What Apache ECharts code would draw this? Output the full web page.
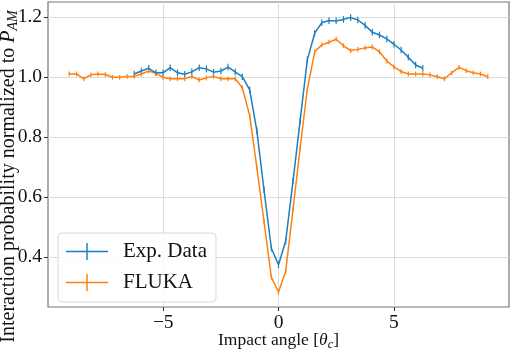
<!DOCTYPE html>
<html><head><meta charset="utf-8">
<script src="https://cdn.jsdelivr.net/npm/echarts@6/dist/echarts.min.js"></script>
<style>html,body{margin:0;padding:0;background:#fff}#c{width:512px;height:350px}</style>
</head><body><div id="c"></div>
<script>
// Impact angle positions (units of theta_c)
const flukaX = [-9.08,-8.76,-8.45,-8.14,-7.83,-7.51,-7.2,-6.89,-6.57,-6.26,-5.95,-5.63,-5.32,-5.01,-4.7,-4.38,-4.07,-3.76,-3.44,-3.13,-2.82,-2.5,-2.19,-1.88,-1.57,-1.25,-0.94,-0.63,-0.31,0,0.31,0.63,0.94,1.25,1.57,1.88,2.19,2.5,2.82,3.13,3.44,3.76,4.07,4.38,4.7,5.01,5.32,5.63,5.95,6.26,6.57,6.89,7.2,7.51,7.83,8.14,8.45,8.76,9.08];
const flukaY = [1.011,1.011,0.995,1.008,1.011,1.009,1.000,1.000,1.003,1.003,1.011,1.021,1.013,1.000,0.995,0.995,0.995,1.003,0.991,0.998,1.003,0.995,0.995,0.995,0.965,0.872,0.700,0.520,0.333,0.284,0.352,0.560,0.765,0.960,1.085,1.108,1.117,1.127,1.105,1.089,1.093,1.098,1.101,1.085,1.054,1.035,1.019,1.011,1.011,1.011,1.008,1.002,0.995,1.015,1.033,1.022,1.015,1.011,1.002];
const expX = [-6.26,-5.95,-5.63,-5.32,-5.01,-4.7,-4.38,-4.07,-3.76,-3.44,-3.13,-2.82,-2.5,-2.19,-1.88,-1.57,-1.25,-0.94,-0.63,-0.31,0,0.31,0.63,0.94,1.25,1.57,1.88,2.19,2.5,2.82,3.13,3.44,3.76,4.07,4.38,4.7,5.01,5.32,5.63,5.95,6.26];
const expY = [1.011,1.021,1.030,1.015,1.015,1.032,1.015,1.010,1.018,1.032,1.028,1.017,1.021,1.034,1.018,1.002,0.958,0.822,0.625,0.430,0.375,0.453,0.654,0.856,1.058,1.147,1.182,1.189,1.188,1.193,1.199,1.191,1.173,1.150,1.141,1.128,1.110,1.091,1.067,1.041,1.030];
const expErr = 0.011;
const flukaErr = 0.008;
const xTicks = [-5, 0, 5];
const yTicks = [0.4, 0.6, 0.8, 1.0, 1.2];

const BLUE = '#1a7fc1', ORANGE = '#ff7f0e';
const FONT = '"Liberation Serif", "DejaVu Serif", serif';

function errSeries(xs, ys, err, color) {
  return {
    type: 'custom', silent: true, z: 3,
    data: xs.map((x, i) => [x, ys[i], err]),
    renderItem: (params, api) => {
      const x = api.value(0), y = api.value(1), e = api.value(2);
      const p1 = api.coord([x, y - e]), p2 = api.coord([x, y + e]);
      return { type: 'line', shape: { x1: p1[0], y1: p1[1], x2: p2[0], y2: p2[1] },
               style: { stroke: color, lineWidth: 1.2 } };
    }
  };
}

// plus-shaped legend marker (errorbar style); tiny far-right square pads the icon's box
const plus = 'path://M0,7.75h20v1.5h-20z M9.65,0h0.7v17h-0.7z M24.75,8.49h0.01v0.01h-0.01z';

const chart = echarts.init(document.getElementById('c'), null, { renderer: 'canvas' });
chart.setOption({
  animation: false,
  backgroundColor: '#fff',
  grid: { left: 48, right: 3, top: 2, bottom: 43, outerBoundsMode: 'none', containLabel: false,
          show: true, borderColor: '#777', borderWidth: 1.2, backgroundColor: 'transparent' },
  legend: {
    data: [{ name: 'Exp. Data', icon: plus }, { name: 'FLUKA', icon: plus }],
    orient: 'vertical', left: 58, top: 233,
    itemWidth: 52, itemHeight: 17, itemGap: 10, symbolKeepAspect: false,
    padding: [8, 9, 9, 8],
    backgroundColor: 'rgba(255,255,255,0.85)', borderColor: '#d8d8d8', borderWidth: 1, borderRadius: 4,
    textStyle: { fontFamily: FONT, fontSize: 21, color: '#111' }
  },
  xAxis: {
    type: 'value', min: -10, max: 10,
    axisLine: { show: false, onZero: false },
    axisTick: { show: true, customValues: xTicks, length: 4, lineStyle: { color: '#333' } },
    axisLabel: { customValues: xTicks, fontFamily: FONT, fontSize: 19.5, color: '#111', margin: 6,
                 hideOverlap: false, showMinLabel: true, showMaxLabel: true,
                 formatter: v => (v < 0 ? '\u2212' + (-v) : '' + v) },
    splitLine: { show: true, lineStyle: { color: '#dcdcdc', width: 1 } },
    name: '{n|Impact angle [}{i|θ}{s|c}{n|]}',
    nameLocation: 'middle', nameGap: 23, nameMoveOverlap: false,
    nameTextStyle: { rich: {
      n: { fontFamily: FONT, fontSize: 17.5, color: '#111' },
      i: { fontFamily: FONT, fontSize: 17.5, fontStyle: 'italic', color: '#111' },
      s: { fontFamily: FONT, fontSize: 12.5, fontStyle: 'italic', color: '#111', padding: [8, 0, 0, 0] }
    } }
  },
  yAxis: {
    type: 'value', min: 0.234, max: 1.251,
    axisLine: { show: false, onZero: false },
    axisTick: { show: true, customValues: yTicks, length: 4, lineStyle: { color: '#333' } },
    axisLabel: { customValues: yTicks, fontFamily: FONT, fontSize: 19.5, color: '#111', margin: 6,
                 formatter: v => v.toFixed(1) },
    splitLine: { show: true, lineStyle: { color: '#dcdcdc', width: 1 } },
    name: '{n|Interaction probability normalized to }{i|P}{s|AM}',
    nameLocation: 'middle', nameGap: 28, nameRotate: 90, nameMoveOverlap: false,
    nameTextStyle: { padding: [0, 44, 0, 0], rich: {
      n: { fontFamily: FONT, fontSize: 20, color: '#111' },
      i: { fontFamily: FONT, fontSize: 20, fontStyle: 'italic', color: '#111' },
      s: { fontFamily: FONT, fontSize: 14, fontStyle: 'italic', color: '#111', padding: [9, 0, 0, 0] }
    } }
  },
  series: [
    { name: 'Exp. Data', type: 'line', data: expX.map((x, i) => [x, expY[i]]), showSymbol: false,
      itemStyle: { color: BLUE }, lineStyle: { color: BLUE, width: 1.5 }, z: 4 },
    { name: 'FLUKA', type: 'line', data: flukaX.map((x, i) => [x, flukaY[i]]), showSymbol: false,
      itemStyle: { color: ORANGE }, lineStyle: { color: ORANGE, width: 1.5 }, z: 3 },
    errSeries(expX, expY, expErr, BLUE),
    errSeries(flukaX, flukaY, flukaErr, ORANGE)
  ]
});
</script></body></html>
